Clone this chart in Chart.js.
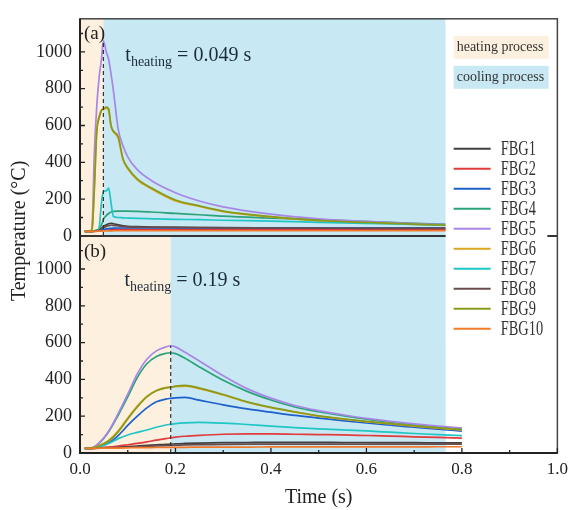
<!DOCTYPE html>
<html>
<head>
<meta charset="utf-8">
<script src="https://cdn.jsdelivr.net/npm/chart.js@4.4.1/dist/chart.umd.min.js"></script>
<style>
  html, body { margin: 0; padding: 0; background: #fff; }
</style>
</head>
<body>
<canvas id="tempChart" width="574" height="510"></canvas>
<script>
// time samples (s) of the two runs
const timeA = [0.01, 0.02, 0.025, 0.03, 0.035, 0.04, 0.045, 0.049, 0.055, 0.06, 0.065, 0.07, 0.08, 0.09, 0.1, 0.12, 0.15, 0.2, 0.25, 0.3, 0.4, 0.5, 0.6, 0.7, 0.8];
const timeB = [0.01, 0.02, 0.04, 0.06, 0.08, 0.1, 0.12, 0.14, 0.16, 0.18, 0.19, 0.2, 0.22, 0.25, 0.3, 0.35, 0.4, 0.45, 0.5, 0.55, 0.6, 0.65, 0.7, 0.75, 0.8];

const seriesNames = ["FBG1", "FBG2", "FBG3", "FBG4", "FBG5", "FBG6", "FBG7", "FBG8", "FBG9", "FBG10"];
const seriesColors = ["#404040", "#e23b3b", "#1f5fcc", "#2aa37a", "#a886e6", "#d9a61e", "#1fc6c6", "#6b4c4c", "#8a9a1c", "#f07a2a"];

// (a) t_heating = 0.049 s
const fbg1a = [25, 25, 25, 27, 30, 35, 42, 52, 60, 66, 68, 66, 60, 55, 52, 50, 48, 46, 45, 45, 44, 43, 42, 42, 42];
const fbg2a = [25, 25, 25, 25, 26, 27, 28, 30, 31, 32, 33, 34, 35, 35, 35, 35, 35, 35, 35, 35, 35, 35, 35, 35, 35];
const fbg3a = [25, 25, 25, 26, 28, 30, 33, 36, 38, 40, 41, 42, 43, 43, 43, 43, 43, 43, 43, 43, 43, 43, 43, 43, 43];
const fbg4a = [25, 25, 25, 27, 30, 40, 60, 90, 110, 122, 130, 133, 135, 135, 135, 133, 130, 122, 115, 107, 97, 88, 78, 68, 60];
const fbg5a = [25, 25, 40, 450, 700, 860, 960, 1060, 1000, 960, 880, 790, 580, 490, 430, 360, 300, 235, 190, 158, 118, 93, 79, 67, 58];
const fbg6a = [25, 25, 34, 270, 575, 650, 685, 688, 695, 680, 595, 565, 530, 415, 365, 305, 255, 190, 160, 132, 103, 82, 71, 62, 54];
const fbg7a = [25, 25, 25, 27, 30, 45, 180, 240, 245, 260, 180, 105, 100, 98, 97, 95, 93, 90, 88, 85, 80, 74, 68, 62, 57];
const fbg8a = [25, 25, 25, 26, 28, 32, 38, 45, 52, 56, 58, 57, 54, 51, 49, 48, 47, 46, 45, 44, 43, 42, 41, 41, 40];
const fbg9a = [25, 25, 30, 250, 560, 640, 680, 690, 700, 690, 600, 570, 540, 420, 370, 310, 260, 195, 163, 135, 105, 84, 73, 64, 56];
const fbg10a = [25, 25, 25, 25, 25, 26, 26, 27, 27, 27, 27, 28, 28, 28, 28, 28, 28, 28, 28, 28, 28, 28, 28, 28, 28];

// (b) t_heating = 0.19 s
const fbg1b = [25, 25, 27, 29, 32, 35, 38, 41, 44, 47, 48, 50, 52, 54, 56, 57, 58, 58, 58, 57, 57, 56, 56, 55, 55];
const fbg2b = [25, 25, 28, 32, 38, 45, 52, 60, 70, 78, 83, 86, 91, 96, 102, 104, 104, 102, 100, 98, 95, 92, 88, 85, 81];
const fbg3b = [25, 25, 35, 55, 95, 150, 200, 245, 278, 293, 297, 300, 302, 287, 262, 240, 222, 204, 190, 176, 163, 151, 140, 129, 119];
const fbg4b = [25, 25, 52, 115, 205, 305, 410, 485, 525, 542, 545, 540, 515, 468, 395, 335, 288, 250, 224, 203, 184, 168, 154, 142, 132];
const fbg5b = [25, 25, 55, 120, 215, 320, 430, 510, 555, 577, 583, 577, 548, 500, 420, 350, 298, 258, 230, 208, 188, 172, 158, 146, 136];
const fbg6b = [25, 25, 40, 68, 120, 190, 255, 308, 340, 355, 358, 361, 364, 350, 315, 276, 246, 222, 200, 184, 170, 158, 146, 135, 125];
const fbg7b = [25, 25, 35, 52, 78, 98, 112, 125, 140, 152, 156, 160, 164, 166, 162, 155, 146, 138, 131, 126, 120, 113, 106, 100, 94];
const fbg8b = [25, 25, 26, 28, 30, 32, 34, 36, 38, 40, 41, 42, 44, 45, 47, 48, 48, 48, 48, 48, 48, 48, 48, 48, 48];
const fbg9b = [25, 25, 38, 65, 115, 185, 250, 305, 338, 354, 358, 363, 368, 353, 318, 278, 248, 224, 202, 186, 172, 160, 148, 137, 127];
const fbg10b = [25, 25, 26, 27, 27, 28, 29, 29, 30, 30, 31, 31, 31, 32, 32, 32, 33, 33, 33, 33, 33, 33, 33, 34, 34];

// heating end and peak of each run, end of the shaded cooling band
const heatingEnd = [0.049, 0.19];
const peakTemp = [1060, 583];
const coolingEnd = 0.766;

const xTicks = [0, 0.2, 0.4, 0.6, 0.8, 1.0];
const yTicks = [0, 200, 400, 600, 800, 1000];

const panelA = [fbg1a, fbg2a, fbg3a, fbg4a, fbg5a, fbg6a, fbg7a, fbg8a, fbg9a, fbg10a];
const panelB = [fbg1b, fbg2b, fbg3b, fbg4b, fbg5b, fbg6b, fbg7b, fbg8b, fbg9b, fbg10b];

const SERIF = "'Liberation Serif', 'Times New Roman', serif";
const HEAT_BG = "#fdf0df";
const COOL_BG = "#c8e8f4";

function makeSet(times, values, i, axis) {
  return {
    label: seriesNames[i],
    data: times.map((t, k) => ({ x: t, y: values[k] })),
    yAxisID: axis,
    borderColor: seriesColors[i],
    borderWidth: 1.7,
    pointRadius: 0,
    cubicInterpolationMode: "monotone",
    fill: false,
    order: 20 - i,
  };
}

const datasets = [];
panelA.forEach((v, i) => datasets.push(makeSet(timeA, v, i, "ya")));
panelB.forEach((v, i) => datasets.push(makeSet(timeB, v, i, "yb")));
// dashed markers at the end of heating
["ya", "yb"].forEach((axis, p) => {
  datasets.push({
    label: "marker",
    data: [{ x: heatingEnd[p], y: 0 }, { x: heatingEnd[p], y: peakTemp[p] }],
    yAxisID: axis,
    borderColor: "#333",
    borderWidth: 1.2,
    borderDash: [4, 3],
    pointRadius: 0,
    order: 0,
  });
});

const yAxis = () => ({
  type: "linear",
  position: "left",
  stack: "temp",
  stackWeight: 1,
  min: 0,
  max: 1180,
  grid: { display: false, drawTicks: false },
  border: { display: false },
  afterBuildTicks: (s) => { s.ticks = yTicks.map((v) => ({ value: v })); },
  afterFit: (s) => { s.width = 80; },
  ticks: {
    autoSkip: false,
    padding: 8,
    color: "#222",
    font: { family: SERIF, size: 18 },
    callback: (v) => String(v),
  },
});

// backgrounds, frame, inward ticks, labels and legend
const decor = {
  id: "decor",
  beforeDatasetsDraw(chart) {
    const { ctx, scales } = chart;
    const x = scales.x;
    [scales.ya, scales.yb].forEach((p, i) => {
      const x0 = x.getPixelForValue(0);
      const x1 = x.getPixelForValue(heatingEnd[i]);
      const x2 = x.getPixelForValue(coolingEnd);
      ctx.fillStyle = HEAT_BG;
      ctx.fillRect(x0, p.top, x1 - x0, p.bottom - p.top);
      ctx.fillStyle = COOL_BG;
      ctx.fillRect(x1, p.top, x2 - x1, p.bottom - p.top);
    });
  },
  afterDatasetsDraw(chart) {
    const { ctx, chartArea: ca, scales } = chart;
    const x = scales.x, ya = scales.ya, yb = scales.yb;
    ctx.save();

    // panel divider
    ctx.strokeStyle = "#333";
    ctx.lineWidth = 2;
    ctx.beginPath();
    ctx.moveTo(ca.left, ya.bottom);
    ctx.lineTo(ca.right, ya.bottom);
    ctx.stroke();

    // legend box
    const lx = x.getPixelForValue(coolingEnd);
    ctx.fillStyle = "#fff";
    ctx.fillRect(lx, ca.top + 1, ca.right - 10 - lx, 325);

    ctx.font = "14px " + SERIF;
    ctx.textBaseline = "middle";
    ctx.fillStyle = HEAT_BG;
    ctx.fillRect(lx + 8, ca.top + 17, 95, 23);
    ctx.fillStyle = COOL_BG;
    ctx.fillRect(lx + 8, ca.top + 47, 95, 23);
    ctx.fillStyle = "#333";
    ctx.fillText("heating process", lx + 11, ca.top + 29);
    ctx.fillText("cooling process", lx + 11, ca.top + 59);

    seriesNames.forEach((name, i) => {
      const yy = ca.top + 130 + i * 20;
      ctx.strokeStyle = seriesColors[i];
      ctx.lineWidth = 2;
      ctx.beginPath();
      ctx.moveTo(lx + 8, yy);
      ctx.lineTo(lx + 45, yy);
      ctx.stroke();
      ctx.save();
      ctx.translate(lx + 55, yy);
      ctx.scale(0.72, 1);
      ctx.font = "20px " + SERIF;
      ctx.fillStyle = "#333";
      ctx.fillText(name, 0, 1);
      ctx.restore();
    });

    // frame
    ctx.strokeStyle = "#444";
    ctx.lineWidth = 1.5;
    ctx.strokeRect(ca.left, ca.top, ca.right - ca.left, ca.bottom - ca.top);
    ctx.strokeStyle = "#222";
    ctx.lineWidth = 2;
    ctx.beginPath();
    ctx.moveTo(ca.left, ca.top);
    ctx.lineTo(ca.left, ca.bottom);
    ctx.lineTo(ca.right, ca.bottom);
    ctx.stroke();

    // inward ticks
    ctx.lineWidth = 1.3;
    ctx.strokeStyle = "#222";
    ctx.beginPath();
    [ya, yb].forEach((p) => {
      for (let v = 100; v <= 1100; v += 100) {
        const py = p.getPixelForValue(v);
        const len = v % 200 === 0 ? 5 : 3;
        ctx.moveTo(ca.left, py);
        ctx.lineTo(ca.left + len, py);
      }
    });
    for (let v = 0.1; v < 1.0; v += 0.1) {
      const px = x.getPixelForValue(v);
      const len = Math.round(v * 10) % 2 === 0 ? 5 : 3;
      ctx.moveTo(px, ca.bottom);
      ctx.lineTo(px, ca.bottom - len);
    }
    ctx.stroke();

    // panel labels
    ctx.fillStyle = "#222";
    ctx.font = "19px " + SERIF;
    ctx.textBaseline = "alphabetic";
    ctx.fillText("(a)", ca.left + 4, ya.top + 20);
    ctx.fillText("(b)", ca.left + 4, yb.top + 21);

    // heating-time notes
    const note = (px, py, value) => {
      ctx.fillStyle = "#1c2c3c";
      ctx.font = "20px " + SERIF;
      ctx.fillText("t", px, py);
      let cx = px + ctx.measureText("t").width;
      ctx.font = "14px " + SERIF;
      ctx.fillText("heating", cx, py + 5);
      cx += ctx.measureText("heating").width;
      ctx.font = "20px " + SERIF;
      ctx.fillText(" = " + value + " s", cx, py);
    };
    note(x.getPixelForValue(0.095), ya.getPixelForValue(950), heatingEnd[0]);
    note(x.getPixelForValue(0.093), yb.getPixelForValue(905), heatingEnd[1]);

    // y title
    ctx.save();
    ctx.translate(20, (ca.top + ca.bottom) / 2 - 5);
    ctx.rotate(-Math.PI / 2);
    ctx.textAlign = "center";
    ctx.textBaseline = "middle";
    ctx.font = "20px " + SERIF;
    ctx.fillStyle = "#222";
    ctx.fillText("Temperature (\u00B0C)", 0, 0);
    ctx.restore();

    ctx.restore();
  },
};

new Chart(document.getElementById("tempChart"), {
  type: "line",
  data: { datasets },
  options: {
    responsive: false,
    animation: false,
    layout: { padding: { top: 10, right: 11, left: 0, bottom: 0 } },
    scales: {
      x: {
        type: "linear",
        position: "bottom",
        min: 0,
        max: 1.0,
        grid: { display: false, drawTicks: false },
        border: { display: false },
        afterBuildTicks: (s) => { s.ticks = xTicks.map((v) => ({ value: v })); },
        afterFit: (s) => { s.height = 57; },
        ticks: {
          autoSkip: false,
          maxRotation: 0,
          padding: 6,
          color: "#222",
          font: { family: SERIF, size: 17 },
          callback: (v) => Number(v).toFixed(1),
        },
        title: {
          display: true,
          text: "Time (s)",
          color: "#222",
          font: { family: SERIF, size: 20 },
          padding: { top: 0, bottom: 0 },
        },
      },
      // stacked axes are laid out bottom-up in definition order
      yb: yAxis(),
      ya: yAxis(),
    },
    plugins: {
      legend: { display: false },
      tooltip: { enabled: false },
    },
  },
  plugins: [decor],
});
</script>
</body>
</html>
